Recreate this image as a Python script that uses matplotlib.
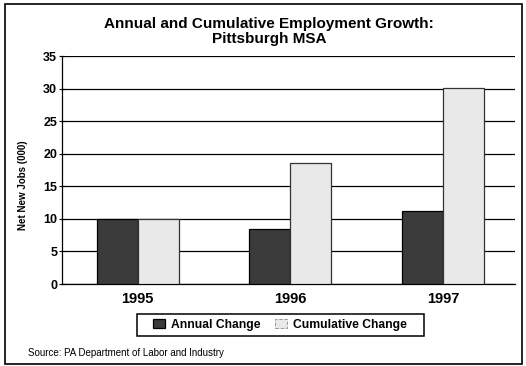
import matplotlib
matplotlib.use("Agg")
import matplotlib.pyplot as plt
import numpy as np
from matplotlib.patches import Rectangle

plt.rcParams['font.family'] = ['Liberation Sans', 'DejaVu Sans']

# data
anos = ['1995', '1996', '1997']
anual = [10.0, 8.4, 11.2]
cumulativo = [10.0, 18.6, 30.1]

fig = plt.figure(figsize=(5.26, 3.66), dpi=100)
ax = fig.add_axes([0.118, 0.224, 0.861, 0.622])

x = np.arange(len(anos))
w = 0.268
ax.bar(x - w / 2, anual, w, color='#3b3b3b', edgecolor='black', linewidth=0.9,
       label='Annual Change', zorder=3)
ax.bar(x + w / 2, cumulativo, w, color='#e9e9e9', edgecolor='#333333', linewidth=0.9,
       label='Cumulative Change', zorder=3)

ax.set_ylim(0, 35)
ax.set_xlim(-0.495, 2.47)
ax.set_yticks(range(0, 36, 5))
ax.set_xticks(x)
ax.set_xticklabels(anos, fontsize=10.5, fontweight='bold')
for t in ax.get_yticklabels():
    t.set_fontweight('bold')
    t.set_fontsize(9)
ax.tick_params(axis='x', length=0, pad=6)
ax.tick_params(axis='y', length=5, width=0.8, pad=1, direction='inout')
ax.yaxis.grid(True, color='black', linewidth=0.9, zorder=0)
ax.set_axisbelow(True)
for s in ['top', 'right']:
    ax.spines[s].set_visible(False)
ax.spines['left'].set_linewidth(0.9)
ax.spines['bottom'].set_linewidth(0.9)

# rótulo do eixo y
fig.text(0.044, 0.495, 'Net New Jobs (000)', rotation=90, ha='center', va='center',
         fontsize=7, fontweight='bold')

# título
fig.text(0.512, 0.934, 'Annual and Cumulative Employment Growth:',
         ha='center', va='center', fontsize=11, fontweight='bold')
fig.text(0.512, 0.893, 'Pittsburgh MSA',
         ha='center', va='center', fontsize=11, fontweight='bold')

# legenda
leg = fig.legend(loc='center', bbox_to_anchor=(0.532, 0.112), ncol=2, frameon=False,
                 fontsize=8.7, handlelength=1.0, handleheight=0.8, handletextpad=0.45,
                 columnspacing=1.25)
for t in leg.get_texts():
    t.set_fontweight('bold')
h = leg.legend_handles[1]
h.set_edgecolor('#9a9a9a')
h.set_linestyle('--')
h.set_linewidth(0.7)
fig.patches.append(Rectangle((137 / 526, 1 - 336 / 366), 287 / 526, 22 / 366,
                             transform=fig.transFigure, fill=False,
                             edgecolor='black', linewidth=1.1))

fig.text(0.053, 0.035, 'Source: PA Department of Labor and Industry', fontsize=7,
         ha='left', va='center')

fig.patches.append(Rectangle((0.01, 0.005), 0.982, 0.983, transform=fig.transFigure,
                             fill=False, edgecolor='black', linewidth=1.2))

fig.savefig('out.png', dpi=100)
